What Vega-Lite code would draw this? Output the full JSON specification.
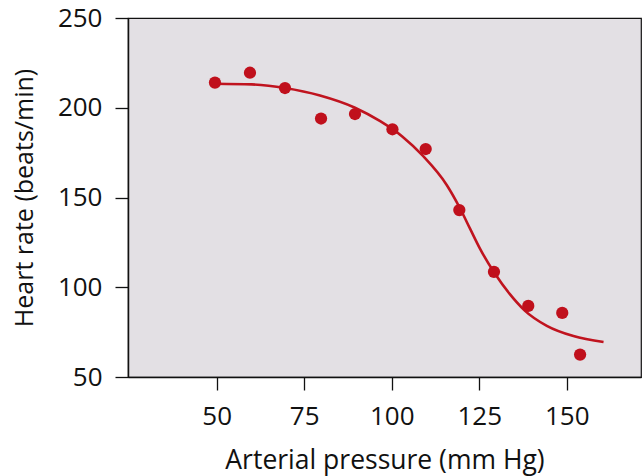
{
  "$schema": "https://vega.github.io/schema/vega-lite/v6.json",
  "width": 513,
  "height": 359,
  "autosize": {"type": "none"},
  "padding": {"left": 128, "top": 18, "right": 3, "bottom": 99},
  "background": "white",
  "config": {
    "view": {"fill": "#e3e0e4", "stroke": "#111111", "strokeWidth": 1.2},
    "axis": {
      "grid": false,
      "domainColor": "#111111",
      "domainWidth": 1.5,
      "tickColor": "#111111",
      "tickWidth": 1.3,
      "tickSize": 13,
      "labelFont": "Open Sans",
      "labelFontSize": 26,
      "labelColor": "#111111",
      "labelPadding": 13,
      "titleFont": "Open Sans",
      "titleFontSize": 25,
      "titleFontWeight": "normal",
      "titleColor": "#111111"
    }
  },
  "datasets": {
    "obs": [
      {"pressure": 49.5, "hr": 214},
      {"pressure": 59.5, "hr": 219.5},
      {"pressure": 69.5, "hr": 211},
      {"pressure": 79.8, "hr": 194},
      {"pressure": 89.5, "hr": 196.5},
      {"pressure": 100.2, "hr": 188},
      {"pressure": 109.7, "hr": 177},
      {"pressure": 119.3, "hr": 143},
      {"pressure": 129.2, "hr": 108.6},
      {"pressure": 139, "hr": 89.6},
      {"pressure": 148.7, "hr": 85.7},
      {"pressure": 153.8, "hr": 62.5}
    ],
    "fit": [
      {"pressure": 49.5, "hr": 213.4},
      {"pressure": 60, "hr": 213},
      {"pressure": 69.5, "hr": 211},
      {"pressure": 79.5, "hr": 206.8},
      {"pressure": 89.5, "hr": 200},
      {"pressure": 96.7, "hr": 192.5},
      {"pressure": 103, "hr": 184},
      {"pressure": 109, "hr": 173},
      {"pressure": 115.7, "hr": 157},
      {"pressure": 119.5, "hr": 144},
      {"pressure": 122.4, "hr": 132.5},
      {"pressure": 125.2, "hr": 121.5},
      {"pressure": 129.5, "hr": 107.5},
      {"pressure": 133.8, "hr": 96},
      {"pressure": 138, "hr": 87},
      {"pressure": 144.3, "hr": 78.5},
      {"pressure": 151.9, "hr": 72.8},
      {"pressure": 160.5, "hr": 69.5}
    ]
  },
  "encoding": {
    "x": {
      "field": "pressure",
      "type": "quantitative",
      "scale": {"domain": [24.66, 171.2], "nice": false, "zero": false},
      "axis": {"values": [50, 75, 100, 125, 150], "title": "Arterial pressure (mm Hg)", "titlePadding": 18, "titleFontSize": 26.5}
    },
    "y": {
      "field": "hr",
      "type": "quantitative",
      "scale": {"domain": [50, 250], "nice": false, "zero": false},
      "axis": {"values": [50, 100, 150, 200, 250], "title": "Heart rate (beats/min)", "titlePadding": 20}
    }
  },
  "layer": [
    {
      "data": {"name": "fit"},
      "mark": {"type": "line", "color": "#c0141f", "strokeWidth": 2.6, "interpolate": "monotone"}
    },
    {
      "data": {"name": "obs"},
      "mark": {"type": "point", "filled": true, "shape": "circle", "size": 150, "color": "#c0101c", "opacity": 1}
    }
  ]
}
